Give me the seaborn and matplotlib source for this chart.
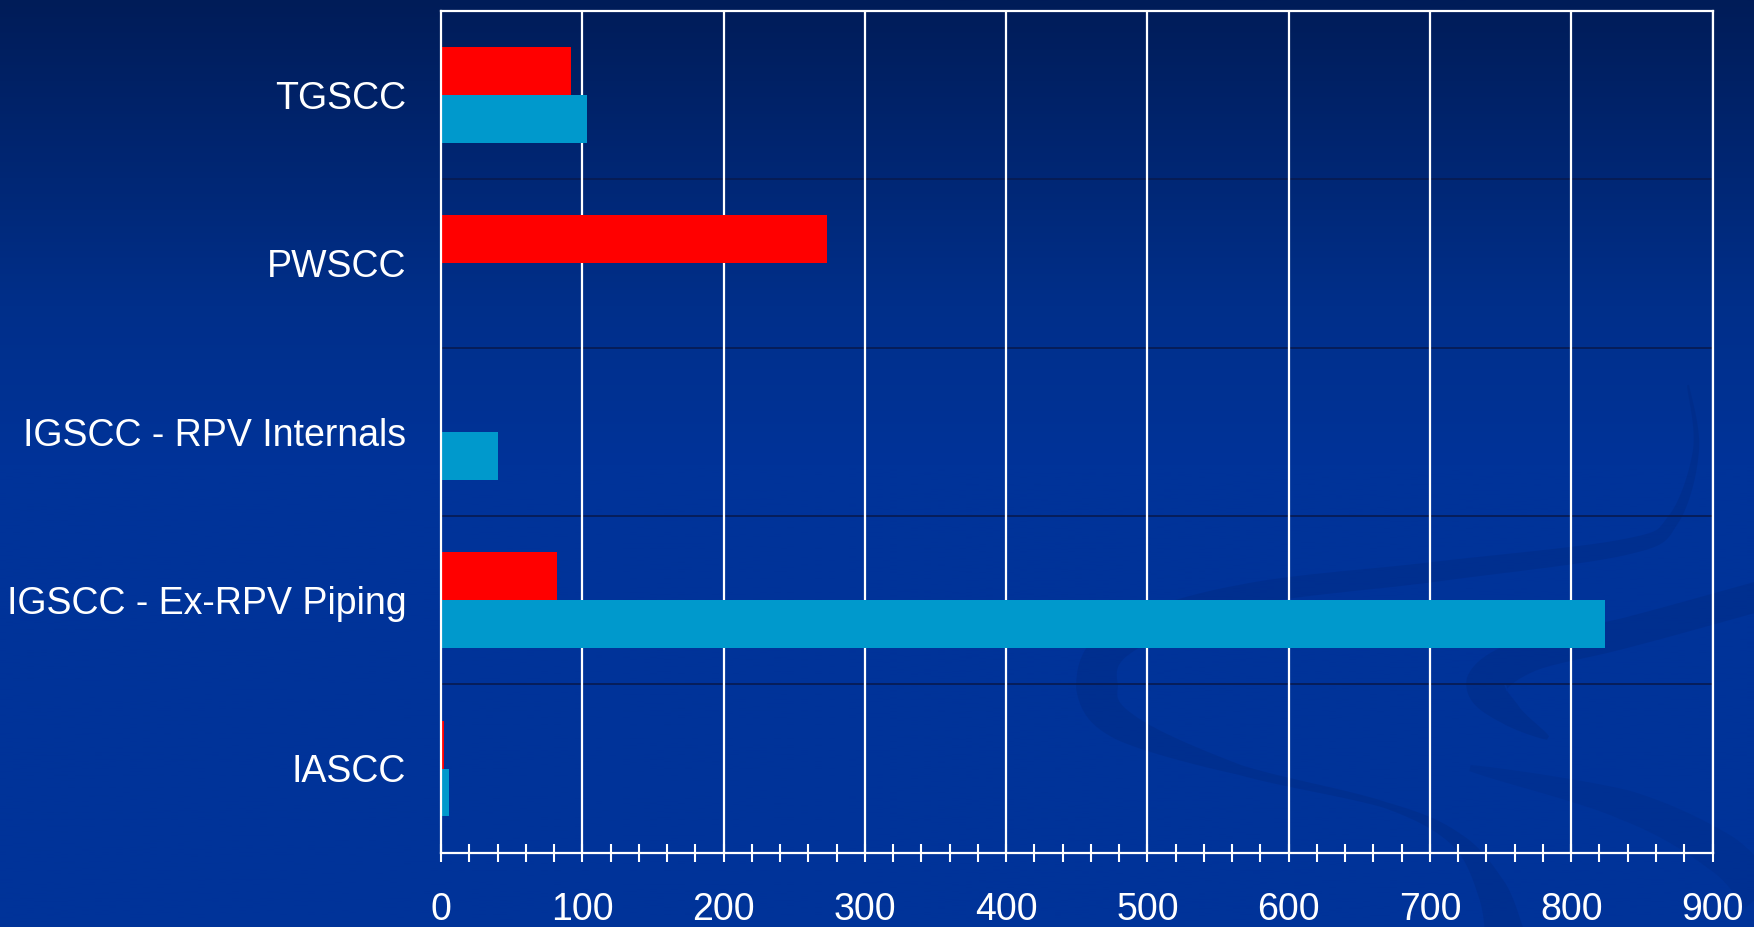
import numpy as np
import pandas as pd
import matplotlib
matplotlib.use("Agg")
import matplotlib.pyplot as plt
from matplotlib.patches import Polygon
import seaborn as sns

# ---- data ----
categories = ["TGSCC", "PWSCC", "IGSCC - RPV Internals", "IGSCC - Ex-RPV Piping", "IASCC"]
series_names = ["PWR", "BWR"]
pwr_values = [92, 273, 0, 82, 2]
bwr_values = [103, 0, 40, 824, 6]
xticks = [0, 100, 200, 300, 400, 500, 600, 700, 800, 900]
bar_colors = ["#FF0000", "#0099CC"]

df = pd.DataFrame({
    "category": categories * 2,
    "series": [series_names[0]] * len(categories) + [series_names[1]] * len(categories),
    "value": pwr_values + bwr_values,
})

sns.set_theme(style="white")
plt.rcParams["font.family"] = ["Liberation Sans", "DejaVu Sans"]

W, H = 1754, 927
fig = plt.figure(figsize=(W / 100, H / 100), dpi=100)

# ---- gradient background (slide template) ----
bg = fig.add_axes([0, 0, 1, 1], zorder=-10)
n = 400
t = np.linspace(0, 1, n)
top = np.array([0, 28, 88]) / 255.0
mid = np.array([0, 47, 138]) / 255.0
bot = np.array([0, 51, 153]) / 255.0
grad = np.zeros((n, 1, 3))
for i, v in enumerate(t):
    if v < 0.33:
        f = v / 0.33
        grad[i, 0] = top * (1 - f) + mid * f
    else:
        f = min((v - 0.33) / 0.17, 1.0)
        grad[i, 0] = mid * (1 - f) + bot * f
bg.imshow(grad, aspect="auto", extent=[0, W, H, 0])
bg.set_xlim(0, W)
bg.set_ylim(H, 0)
bg.axis("off")


def catmull(pts, k=30):
    pts = np.asarray(pts, float)
    p = np.vstack([pts[0], pts, pts[-1]])
    out = []
    for i in range(1, len(p) - 2):
        p0, p1, p2, p3 = p[i - 1], p[i], p[i + 1], p[i + 2]
        for s in np.linspace(0, 1, k, endpoint=False):
            out.append(0.5 * ((2 * p1) + (-p0 + p2) * s + (2 * p0 - 5 * p1 + 4 * p2 - p3) * s ** 2
                              + (-p0 + 3 * p1 - 3 * p2 + p3) * s ** 3))
    out.append(p[-2])
    return np.array(out)


def ribbon(pts, widths, color, alpha):
    c = catmull(pts)
    w = np.interp(np.linspace(0, 1, len(c)), np.linspace(0, 1, len(widths)), widths)
    d = np.gradient(c, axis=0)
    nrm = np.stack([-d[:, 1], d[:, 0]], axis=1)
    nrm /= np.linalg.norm(nrm, axis=1, keepdims=True) + 1e-9
    left = c + nrm * w[:, None] / 2
    right = c - nrm * w[:, None] / 2
    poly = np.vstack([left, right[::-1]])
    bg.add_patch(Polygon(poly, closed=True, facecolor=color, edgecolor="none", alpha=alpha))


swirl = "#00287e"
# large S-shaped swirl
ribbon([(1688, 385), (1696, 450), (1673, 520), (1625, 547), (1433, 572), (1240, 596),
        (1120, 640), (1097, 687), (1125, 727), (1240, 770), (1385, 805), (1457, 840),
        (1492, 890), (1505, 935)],
       [2, 6, 12, 16, 20, 22, 34, 42, 30, 10, 6, 14, 30, 40], swirl, 0.35)
# smaller swirl on the right
ribbon([(1760, 596), (1625, 633), (1529, 655), (1487, 684), (1510, 714), (1548, 738)],
       [30, 30, 34, 42, 24, 4], swirl, 0.35)
# faint lower-right band
ribbon([(1470, 768), (1625, 805), (1721, 853), (1760, 895)], [6, 30, 40, 40], swirl, 0.25)

# ---- chart ----
ax = fig.add_axes([441 / W, 1 - 852.7 / H, (1712.5 - 441) / W, (852.7 - 10.7) / H])
ax.set_facecolor("none")

sns.barplot(
    data=df, y="category", x="value", hue="series", orient="h",
    order=categories, hue_order=series_names, palette=bar_colors,
    width=0.57, ax=ax, legend=False, saturation=1,
    edgecolor="none", linewidth=0,
)

ax.set_xlim(0, 900)
ax.set_ylim(len(categories) - 0.5, -0.5)
ax.set_xticks(xticks)
ax.set_xticks(np.arange(0, 901, 20), minor=True)
ax.set_xticklabels([str(v) for v in xticks])
ax.set_xlabel("")
ax.set_ylabel("")

ax.grid(False)
for xv in xticks[1:]:
    ax.axvline(xv, color="white", lw=1.6, zorder=0.5)
for yb in np.arange(0.5, len(categories) - 0.5, 1.0):
    ax.axhline(yb, color="#081a50", lw=1.2, zorder=0.4)

for s in ["left", "top", "right", "bottom"]:
    ax.spines[s].set_visible(True)
    ax.spines[s].set_color("white")
    ax.spines[s].set_linewidth(1.6)

ax.tick_params(axis="x", which="both", direction="inout", length=12.5, width=1.5,
               color="white", bottom=True, labelcolor="white", labelsize=27, pad=22)
ax.tick_params(axis="y", length=0, labelcolor="white", labelsize=27, pad=25)

fig.savefig("out.png", dpi=100)
